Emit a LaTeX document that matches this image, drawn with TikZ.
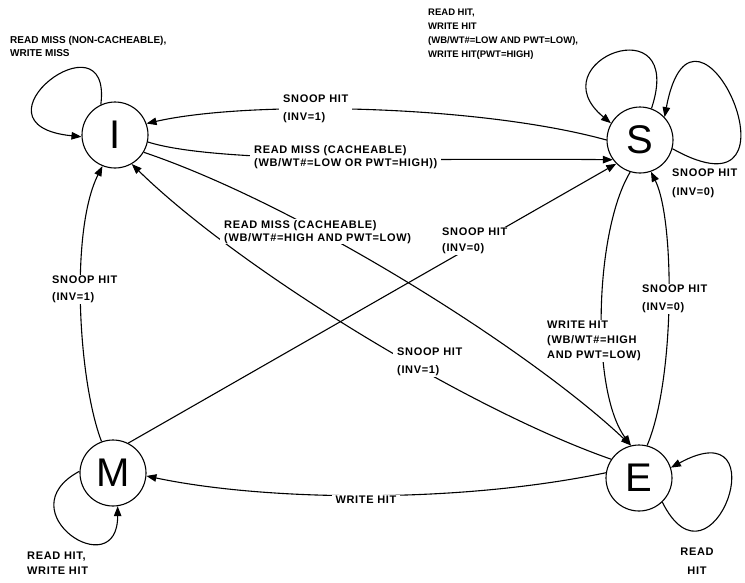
\documentclass[tikz,border=0pt]{standalone}
\usepackage{fontspec}
\setmainfont{Liberation Sans}
\newfontfamily\labfam[LetterSpace=6]{Liberation Sans}
\newfontfamily\labfamN{Liberation Sans}
\usetikzlibrary{arrows.meta}
\newcommand\lf[1]{\labfam\bfseries\fontsize{11}{#1}\selectfont}
\newcommand\lfn[2]{\labfamN\bfseries\fontsize{#1}{#2}\selectfont}
\begin{document}
\begin{tikzpicture}[x=1pt,y=-1pt,
  st/.style={circle,draw,line width=1.1pt,minimum size=66pt,inner sep=0pt,font=\fontsize{40}{40}\selectfont},
  edge/.style={line width=1.1pt,-{Triangle[length=10pt,width=7.5pt]}},
  lab/.style={fill=white,align=left,inner xsep=4pt,inner ysep=1pt,anchor=north west}]
\useasboundingbox (0,0) rectangle (745,582);
\fill[white] (0,0) rectangle (745,582);

% states
\node[st] (I) at (115,135) {I};
\node[st] (S) at (640,140) {S};
\node[st] (E) at (639,478) {E};
\node[st] (M) at (113,473) {M};

% self loops
\draw[edge] (I.115) .. controls +(12,-95) and +(-120,-12) .. (I.183);
\draw[edge] (S.70) .. controls +(35,-105) and +(-75,-62) .. (S.150);
\draw[edge] (S.-15) .. controls +(143,80) and +(30,-160) .. (S.43);
\draw[edge] (E.-46) .. controls +(50,100) and +(110,-60) .. (E.18);
\draw[edge] (M.177) .. controls +(-75,40) and +(0,80) .. (M.-82);

% transitions
\draw[edge] (S.180) .. controls (480,105) and (250,100) .. (I.20);
\draw[edge] (I.-12) .. controls (220,165) and (450,158) .. (S.216);
\draw[edge] (I.-31) .. controls (300,205) and (530,350) .. (E.104);
\draw[edge] (E.146) .. controls (470,410) and (240,270) .. (I.-60);
\draw[edge] (M.63) -- (S.225);
\draw[edge] (M.110) .. controls (78,380) and (70,230) .. (I.-112);
\draw[edge] (E.171) .. controls (450,505) and (260,500) .. (M.-5);
\draw[edge] (S.253) .. controls (595,230) and (590,390) .. (E.104);
\draw[edge] (E.76) .. controls (675,380) and (675,220) .. (S.-71);

% labels
\node[lab,font=\lfn{10}{13}] (lI) at (6,35) {READ MISS (NON-CACHEABLE),\\WRITE MISS};
\node[lab,font=\lfn{9.5}{14}] (lS) at (424,8) {READ HIT,\\WRITE HIT\\(WB/WT\#=LOW AND PWT=LOW),\\WRITE HIT(PWT=HIGH)};
\node[lab,font=\lf{19}] (lS2) at (668,168) {SNOOP HIT\\(INV=0)};
\node[lab,font=\lf{19},align=center,anchor=north] (lE) at (697,547) {READ\\HIT};
\node[lab,font=\lf{15}] (lM) at (23,551) {READ HIT,\\WRITE HIT};

\node[lab,font=\lf{18}] (lSI) at (279,94) {SNOOP HIT\\(INV=1)};
\node[lab,font=\lf{13}] (lIS) at (250,144) {READ MISS (CACHEABLE)\\(WB/WT\#=LOW OR PWT=HIGH))};
\node[lab,font=\lf{13}] (lIE) at (220,219) {READ MISS (CACHEABLE)\\(WB/WT\#=HIGH AND PWT=LOW)};
\node[lab,font=\lf{16}] (lMS) at (438,227) {SNOOP HIT\\(INV=0)};
\node[lab,font=\lf{18}] (lEI) at (393,347) {SNOOP HIT\\(INV=1)};
\node[lab,font=\lf{13},anchor=center] (lEM) at (366,500) {WRITE HIT};
\node[lab,font=\lf{17}] (lMI) at (48,275) {SNOOP HIT\\(INV=1)};
\node[lab,font=\lf{15}] (lSE) at (543,320) {WRITE HIT\\(WB/WT\#=HIGH\\AND PWT=LOW)};
\node[lab,font=\lf{18}] (lES) at (638,284) {SNOOP HIT\\(INV=0)};
\end{tikzpicture}
\end{document}
